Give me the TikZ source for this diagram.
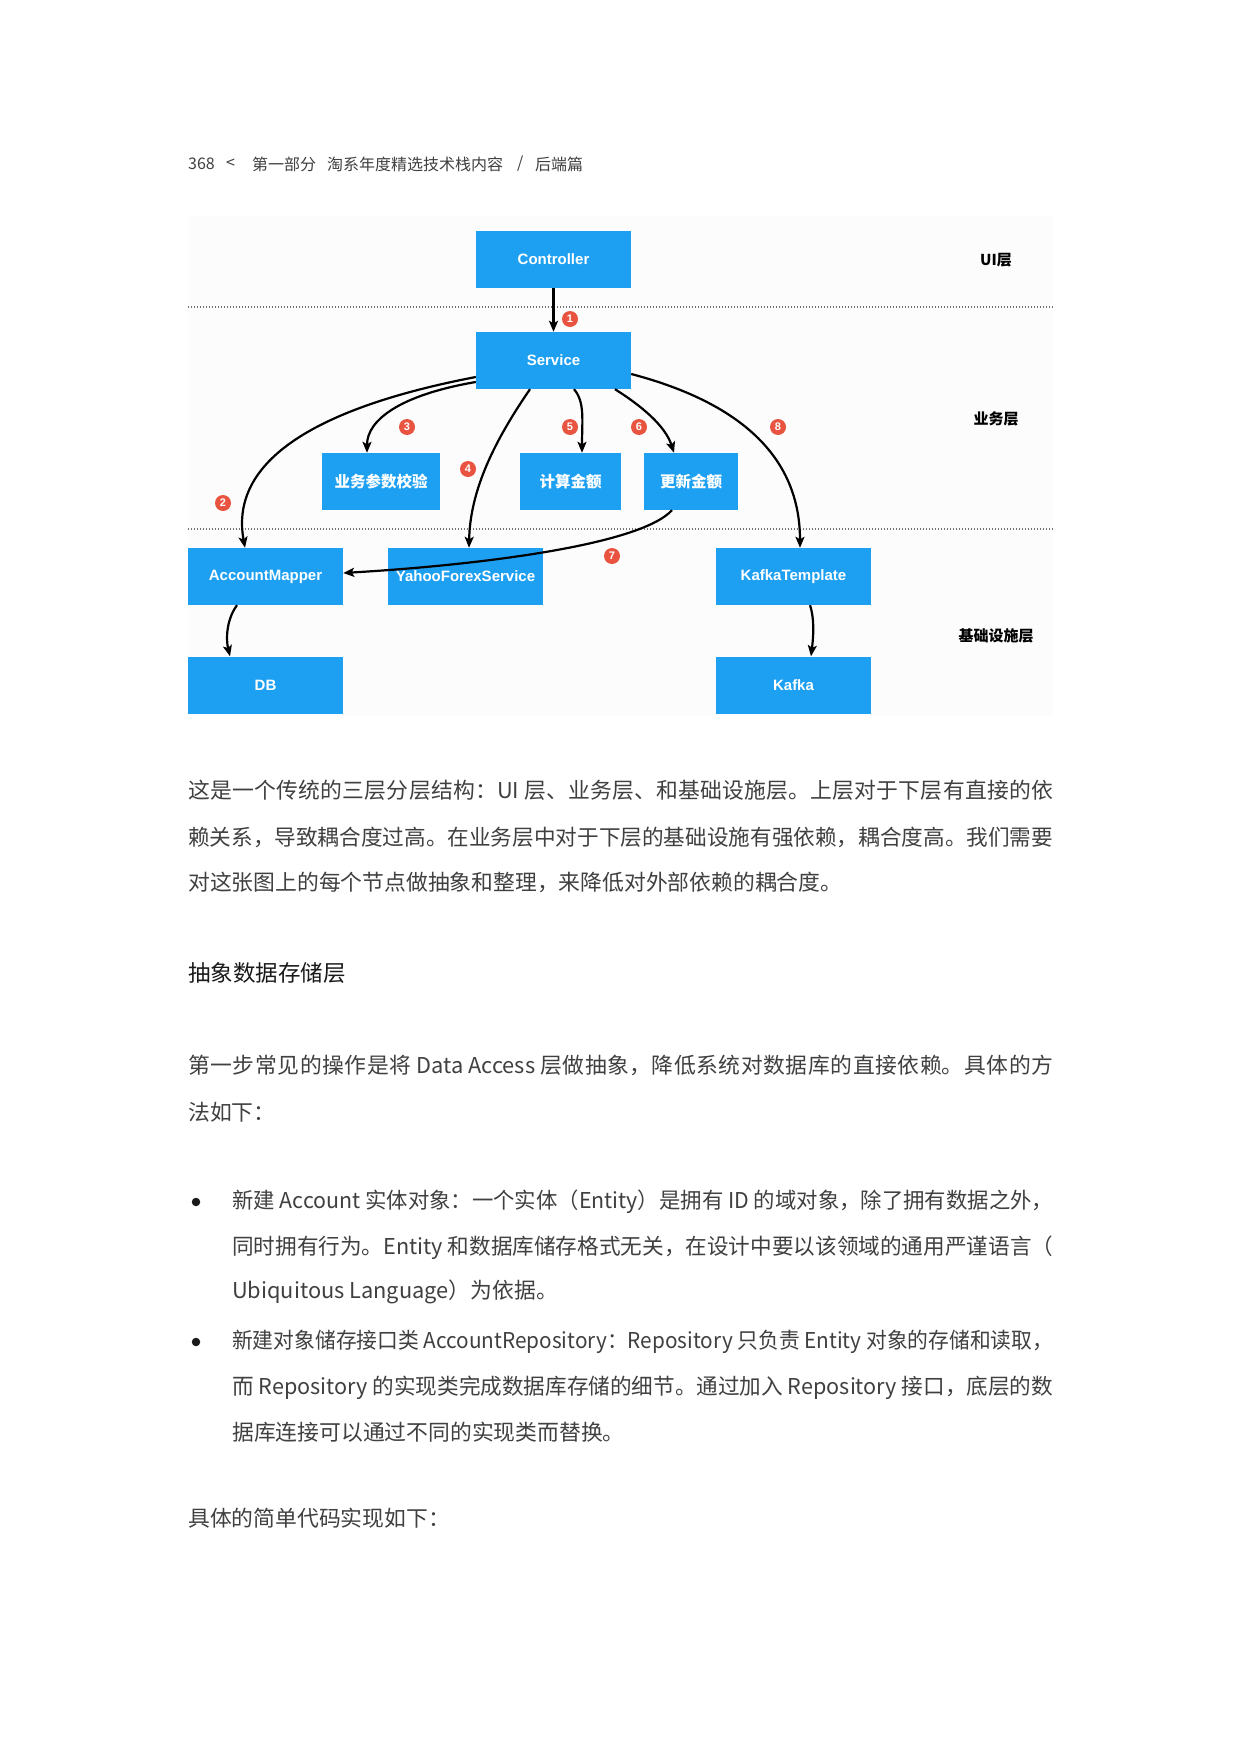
\documentclass[tikz,border=0pt]{standalone}
\usepackage{fontspec}
\usepackage{graphicx}
\setmainfont{Noto Sans CJK SC}
\newfontfamily\lat{Liberation Sans}
\usetikzlibrary{arrows.meta}
\XeTeXlinebreaklocale "zh"
\XeTeXlinebreakskip=0pt plus 6pt
\definecolor{boxblue}{RGB}{30,160,242}
\definecolor{badgered}{RGB}{232,84,64}
\definecolor{bodygray}{RGB}{64,64,64}
\definecolor{headgray}{RGB}{25,25,25}
\definecolor{bgtint}{RGB}{252,252,253}
\newsavebox\lbox
\newcommand\jline[2]{\sbox\lbox{#2}\ifdim\wd\lbox>#1\relax\resizebox{#1}{\height}{\usebox\lbox}\else\parbox{#1}{\parfillskip=0pt\relax #2}\fi}
\begin{document}
\begin{tikzpicture}[x=1pt,y=-1pt,
  blk/.style={fill=boxblue, text=white, inner sep=0pt, minimum height=57pt, font=\lat\bfseries\fontsize{15}{18}\selectfont},
  cblk/.style={blk, font=\bfseries\fontsize{15.5}{18}\selectfont},
  badge/.style={circle, fill=badgered, text=white, inner sep=0pt, minimum size=16pt, font=\lat\bfseries\fontsize{11}{12}\selectfont},
  layer/.style={inner sep=0pt, text=black, font=\bfseries\fontsize{15}{18}\selectfont},
  conn/.style={line width=2.2pt, -{Stealth[length=11pt,width=9pt,inset=2.5pt]}},
  dotline/.style={black!55, line width=1.2pt, dash pattern=on 1.4pt off 1.6pt},
  hdr/.style={anchor=west, inner sep=0pt, text=bodygray, font=\fontsize{16}{19}\selectfont},
  body/.style={anchor=west, inner sep=0pt, text=bodygray, font=\fontsize{21.8}{26}\selectfont},
  heading/.style={anchor=west, inner sep=0pt, text=headgray, font=\fontsize{22.5}{26}\selectfont},
  bullet/.style={circle, fill=headgray, inner sep=0pt, minimum size=8.5pt},
]
\path[use as bounding box, fill=white] (0,0) rectangle (1240,1755);

% header
\node[hdr] (h1) at (188,164) {368};
\node[hdr] (h2) at (226,164) {<};
\node[hdr] (h3) at (252,164) {第一部分};
\node[hdr] (h4) at (327,164) {淘系年度精选技术栈内容};
\node[hdr] (h5) at (517,164) {/};
\node[hdr] (h6) at (535,164) {后端篇};

% diagram background and layer separators
\fill[bgtint] (188,216) rectangle (1053,716);
\draw[dotline] (188,307) -- (1053,307);
\draw[dotline] (188,529) -- (1053,529);

% layer labels
\node[layer] (l1) at (996,260) {UI层};
\node[layer] (l2) at (996,419) {业务层};
\node[layer] (l3) at (996,636) {基础设施层};

% boxes
\node[blk, minimum width=155pt] (ctrl) at (553.5,259.5) {Controller};
\node[blk, minimum width=155pt] (svc) at (553.5,360.5) {Service};
\node[cblk, minimum width=118pt] (chk) at (381,481.5) {业务参数校验};
\node[cblk, minimum width=101pt] (calc) at (570.5,481.5) {计算金额};
\node[cblk, minimum width=94pt] (upd) at (691,481.5) {更新金额};
\node[blk, minimum width=155pt] (am) at (265.5,576.5) {AccountMapper};
\node[blk, minimum width=155pt] (yfs) at (465.5,576.5) {YahooForexService};
\node[blk, minimum width=155pt] (kt) at (793.5,576.5) {KafkaTemplate};
\node[blk, minimum width=155pt] (db) at (265.5,685) {DB};
\node[blk, minimum width=155pt] (kf) at (793.5,685) {Kafka};

% connectors
\draw[conn] (ctrl.south) -- (svc.north);
\draw[conn] ([yshift=-16.5pt]svc.west) .. controls (330,405) and (228,455) .. ([xshift=-20.5pt]am.north);
\draw[conn] ([yshift=-21.5pt]svc.west) .. controls (400,395) and (367,420) .. ([xshift=-14pt]chk.north);
\draw[conn] ([xshift=-23.5pt]svc.south) .. controls (495,440) and (470,490) .. ([xshift=3.5pt]yfs.north);
\draw[conn] ([xshift=20.5pt]svc.south) .. controls (585,402) and (582,420) .. ([xshift=11.5pt]calc.north);
\draw[conn] ([xshift=61.5pt]svc.south) .. controls (640,405) and (665,425) .. ([xshift=-17pt]upd.north);
\draw[conn] ([xshift=-19pt]upd.south) .. controls (640,545) and (480,565) .. ([yshift=3.5pt]am.east);
\draw[conn] ([yshift=-13.5pt]svc.east) .. controls (730,400) and (800,450) .. ([xshift=6.5pt]kt.north);
\draw[conn] ([xshift=-28.5pt]am.south) .. controls (226,620) and (226,640) .. ([xshift=-35.5pt]db.north);
\draw[conn] ([xshift=16.5pt]kt.south) .. controls (815,620) and (813,640) .. ([xshift=17.5pt]kf.north);

% badges
\node[badge] (n1) at (570,319) {1};
\node[badge] (n2) at (223,503) {2};
\node[badge] (n3) at (407,427) {3};
\node[badge] (n4) at (468,469) {4};
\node[badge] (n5) at (570,427) {5};
\node[badge] (n6) at (639,427) {6};
\node[badge] (n7) at (612,556) {7};
\node[badge] (n8) at (778,427) {8};

% body text
\node[body] (p1a) at (188,790) {\jline{865pt}{这是一个传统的三层分层结构：UI 层、业务层、和基础设施层。上层对于下层有直接的依}};
\node[body] (p1b) at (188,837) {\jline{865pt}{赖关系，导致耦合度过高。在业务层中对于下层的基础设施有强依赖，耦合度高。我们需要}};
\node[body] (p1c) at (188,882) {对这张图上的每个节点做抽象和整理，来降低对外部依赖的耦合度。};

\node[heading] (hd) at (188,973) {抽象数据存储层};

\node[body] (p2a) at (188,1065) {\jline{865pt}{第一步常见的操作是将 Data Access 层做抽象，降低系统对数据库的直接依赖。具体的方}};
\node[body] (p2b) at (188,1112) {法如下：};

\node[bullet] (d1) at (196,1202) {};
\node[body] (b1a) at (232,1202) {\jline{821pt}{新建 Account 实体对象：一个实体（Entity）是拥有 ID 的域对象，除了拥有数据之外，}};
\node[body] (b1b) at (232,1248) {\jline{821pt}{同时拥有行为。Entity 和数据库储存格式无关，在设计中要以该领域的通用严谨语言（}};
\node[body] (b1c) at (232,1292) {Ubiquitous Language）为依据。};

\node[bullet] (d2) at (196,1342) {};
\node[body] (b2a) at (232,1342) {\jline{821pt}{新建对象储存接口类 AccountRepository：Repository 只负责 Entity 对象的存储和读取，}};
\node[body] (b2b) at (232,1388) {\jline{821pt}{而 Repository 的实现类完成数据库存储的细节。通过加入 Repository 接口，底层的数}};
\node[body] (b2c) at (232,1432) {据库连接可以通过不同的实现类而替换。};

\node[body] (fin) at (188,1518) {具体的简单代码实现如下：};
\end{tikzpicture}
\end{document}
